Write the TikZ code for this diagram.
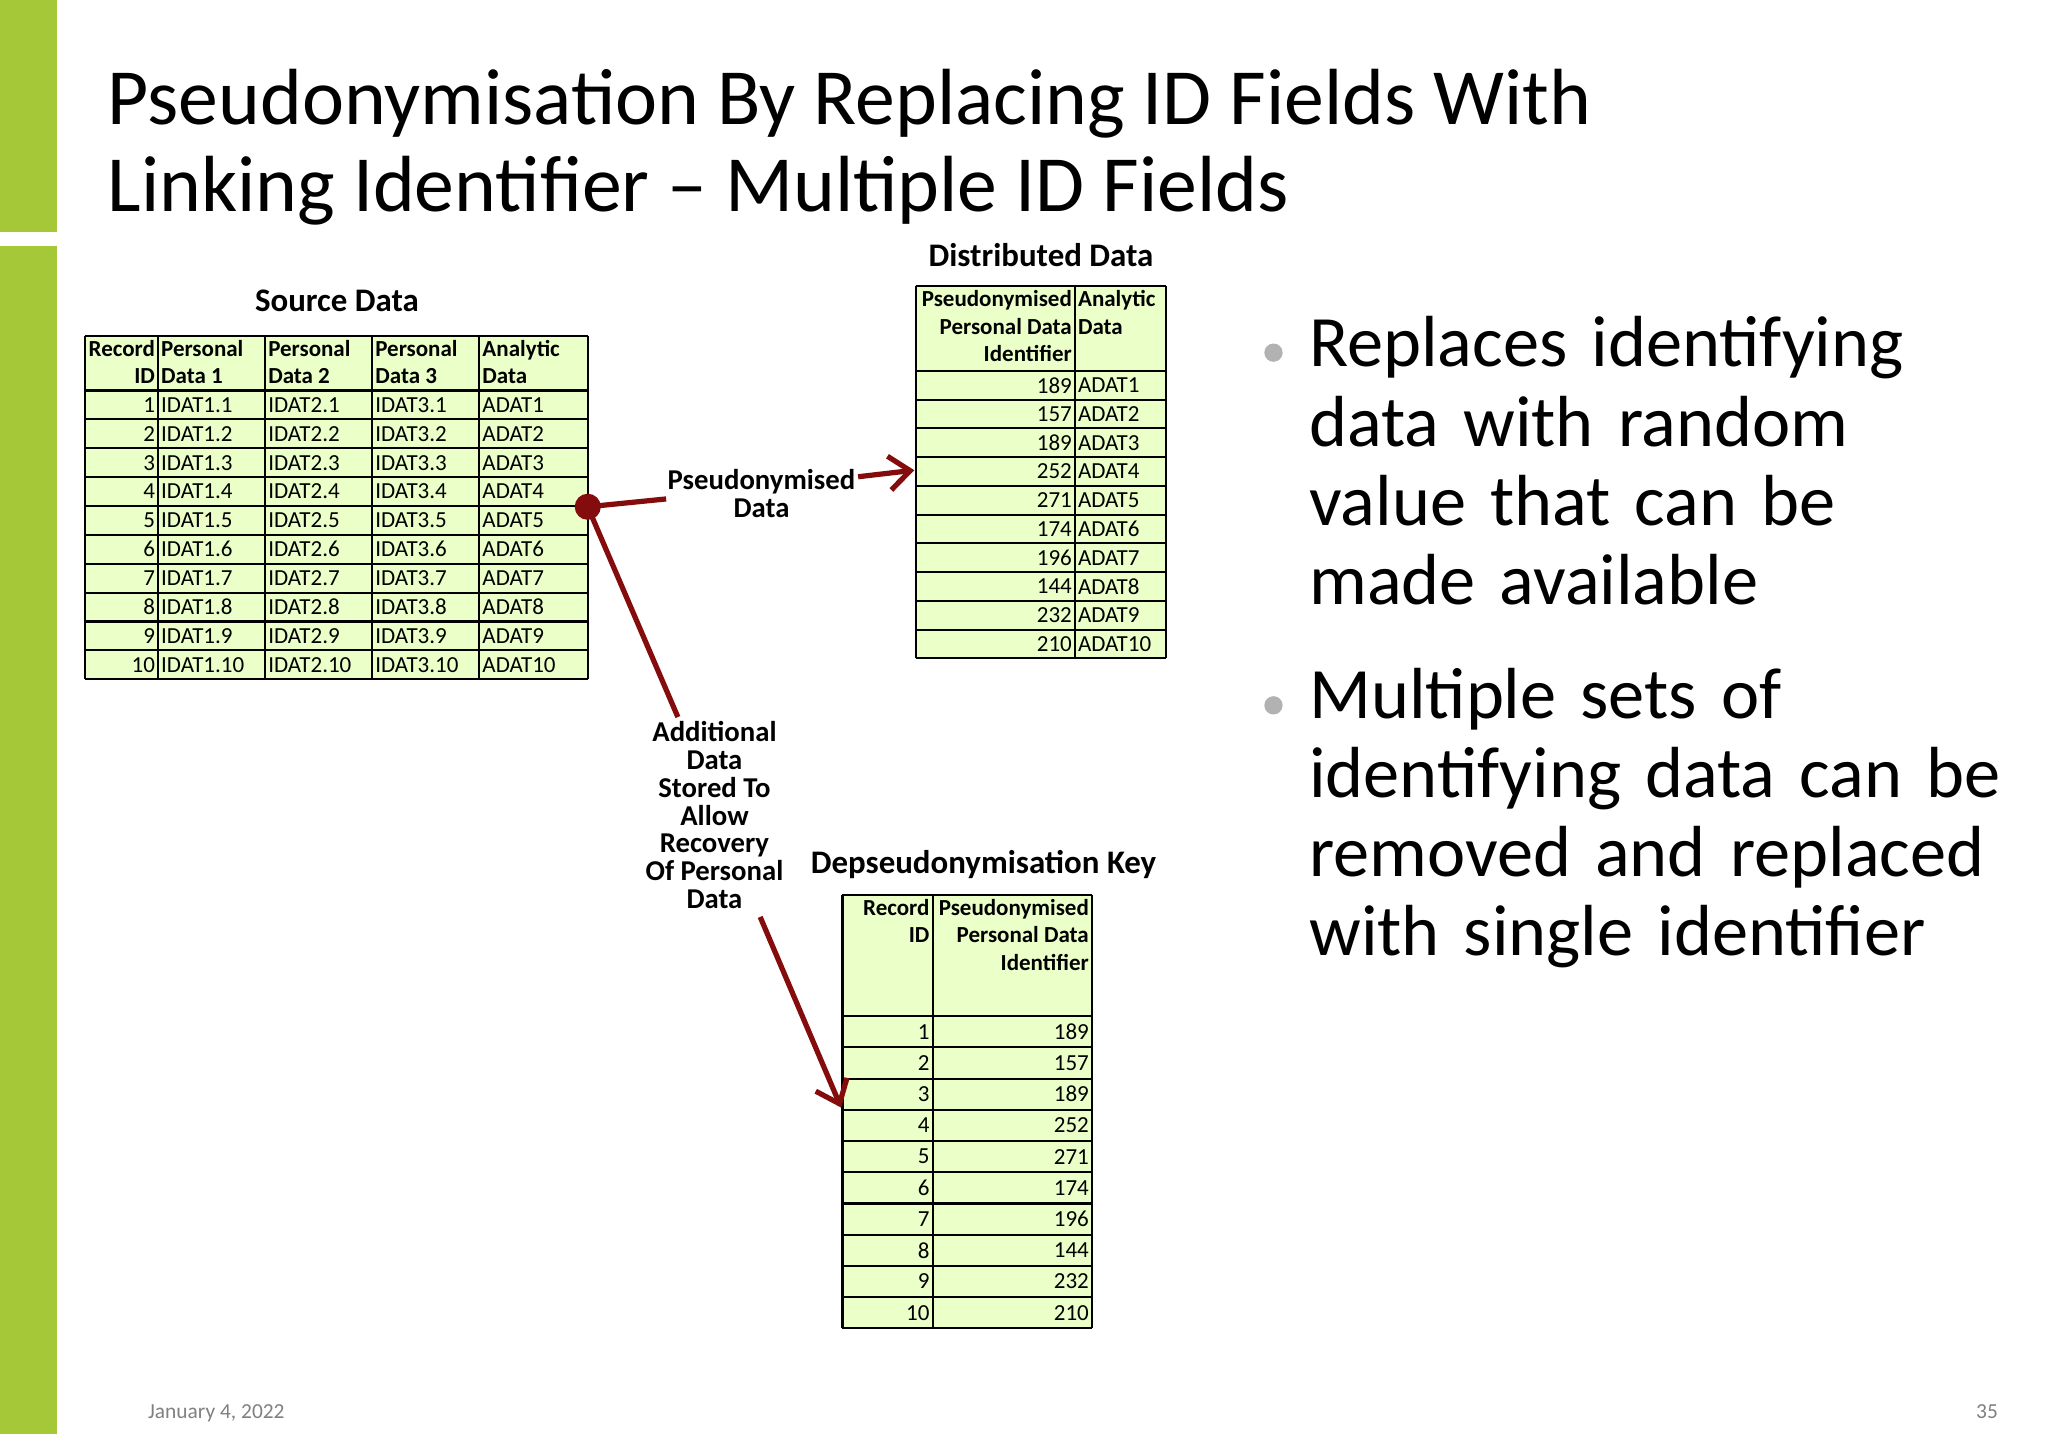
\documentclass[tikz,border=0pt]{standalone}
\usepackage{fontspec}
\usetikzlibrary{arrows.meta}
\setmainfont{Carlito}
\definecolor{barg}{HTML}{A5C838}
\definecolor{cellg}{HTML}{EBFFC8}
\definecolor{arr}{HTML}{850C0C}
\begin{document}
\begin{tikzpicture}[x=0.5pt,y=-0.5pt,
  cell/.style={inner sep=1pt,font=\fontsize{8.8}{9.5}\selectfont},
  hdr/.style={inner sep=1pt,font=\fontsize{8.8}{10.5}\selectfont\bfseries,align=left},
  hdrr/.style={inner sep=1pt,font=\fontsize{8.8}{10.5}\selectfont\bfseries,align=right},
  ttl/.style={font=\fontsize{12.6}{14}\selectfont\bfseries},
  lbl/.style={font=\fontsize{11}{10.6}\selectfont\bfseries,align=center,inner sep=1pt},
  conn/.style={draw=arr,line width=2pt},
  bul/.style={anchor=north west,align=left,font=\fontsize{27.7}{30.3}\selectfont,inner sep=0pt,text width=300pt},
  grid/.style={draw=black,line width=0.8pt}]
\useasboundingbox (0,0) rectangle (1568,1098);
\fill[white] (0,0) rectangle (1568,1098);
\fill[barg] (0,0) rectangle (44,178);
\fill[barg] (0,188) rectangle (44,1098);
% title
\node[anchor=base west,inner sep=0pt,font=\fontsize{30.5}{32}\selectfont] (title1) at (82,95) {Pseudonymisation By Replacing ID Fields With};
\node[anchor=base west,inner sep=0pt,font=\fontsize{30.5}{32}\selectfont] (title2) at (82,162) {Linking Identifier -- Multiple ID Fields};
% ---------- Source table
\node[ttl] (srcT) at (258,230) {Source Data};
\fill[cellg] (65,257) rectangle (450,520);
\foreach \x in {65,121,203,285,367,450} \draw[grid] (\x,257) -- (\x,520);
\draw[grid] (65,257) -- (450,257);
\foreach \i in {0,...,10} \draw[grid] (65,299+22.1*\i) -- (450,299+22.1*\i);
\node[hdrr,anchor=north east] (sh1) at (121,258) {Record\\ID};
\node[hdr,anchor=north west] (sh2) at (121,258) {Personal\\Data 1};
\node[hdr,anchor=north west] (sh3) at (203,258) {Personal\\Data 2};
\node[hdr,anchor=north west] (sh4) at (285,258) {Personal\\Data 3};
\node[hdr,anchor=north west] (sh5) at (367,258) {Analytic\\Data};
\foreach \i in {1,...,10}{
  \pgfmathsetmacro{\yy}{299+22.1*(\i-0.5)}
  \node[cell,anchor=east] (sa\i) at (121,\yy) {\i};
  \node[cell,anchor=west] (sb\i) at (121,\yy) {IDAT1.\i};
  \node[cell,anchor=west] (sc\i) at (203,\yy) {IDAT2.\i};
  \node[cell,anchor=west] (sd\i) at (285,\yy) {IDAT3.\i};
  \node[cell,anchor=west] (se\i) at (367,\yy) {ADAT\i};
}
% ---------- Distributed table
\node[ttl] (distT) at (797,195) {Distributed Data};
\fill[cellg] (701,219) rectangle (893,504);
\foreach \x in {701,823,893} \draw[grid] (\x,219) -- (\x,504);
\draw[grid] (701,219) -- (893,219);
\foreach \i in {0,...,10} \draw[grid] (701,284+22*\i) -- (893,284+22*\i);
\node[hdrr,anchor=north east] (dh1) at (823,220) {Pseudonymised\\Personal Data\\Identifier};
\node[hdr,anchor=north west] (dh2) at (823,220) {Analytic\\Data};
\foreach \i/\v in {1/189,2/157,3/189,4/252,5/271,6/174,7/196,8/144,9/232,10/210}{
  \pgfmathsetmacro{\yy}{284+22*(\i-0.5)}
  \node[cell,anchor=east] (da\i) at (823,\yy) {\v};
  \node[cell,anchor=west] (db\i) at (823,\yy) {ADAT\i};
}
% ---------- Key table
\node[ttl] (keyT) at (753,662) {Depseudonymisation Key};
\fill[cellg] (645,685) rectangle (836,1017);
\foreach \x in {645,714,836} \draw[grid] (\x,685) -- (\x,1017);
\draw[grid] (645,685) -- (836,685);
\foreach \i in {0,...,10} \draw[grid] (645,778+23.9*\i) -- (836,778+23.9*\i);
\node[hdrr,anchor=north east] (kh1) at (714,686) {Record\\ID};
\node[hdrr,anchor=north east] (kh2) at (836,686) {Pseudonymised\\Personal Data\\Identifier};
\foreach \i/\v in {1/189,2/157,3/189,4/252,5/271,6/174,7/196,8/144,9/232,10/210}{
  \pgfmathsetmacro{\yy}{778+23.9*(\i-0.5)}
  \node[cell,anchor=east] (ka\i) at (714,\yy) {\i};
  \node[cell,anchor=east] (kb\i) at (836,\yy) {\v};
}
% ---------- connectors
\coordinate (dot) at (450,388);
\node[lbl] (pd) at (583,378) {Pseudonymised\\Data};
\node[lbl] (ad) at (547,624) {Additional\\Data\\Stored To\\Allow\\Recovery\\Of Personal\\Data};
\coordinate (pdL) at (510,382);
\coordinate (pdR) at (657,365);
\coordinate (distIn) at (700,360);
\coordinate (adT) at (519,549);
\coordinate (adB) at (582,702);
\coordinate (keyIn) at (644,848);
\draw[conn] (dot) -- (pdL);
\draw[conn] (dot) -- (adT);
\draw[conn,-{Straight Barb[length=8pt,width=13pt]}] (pdR) -- (distIn);
\draw[conn,-{Straight Barb[length=8pt,width=13pt]}] (adB) -- (keyIn);
\fill[arr] (dot) circle (5pt);
% ---------- bullets
\fill[gray!60] (975,270) circle (3.5pt);
\fill[gray!60] (975,540) circle (3.5pt);
\node[bul] (b1) at (1002,242) {Replaces identifying\\data with random\\value that can be\\made available};
\node[bul] (b2) at (1002,511) {Multiple sets of\\identifying data can be\\removed and replaced\\with single identifier};
% ---------- footer
\node[anchor=base west,inner sep=0pt,text=gray,font=\fontsize{8.2}{9}\selectfont] (date) at (113,1086) {January 4, 2022};
\node[anchor=base east,inner sep=0pt,text=gray,font=\fontsize{8.2}{9}\selectfont] (pg) at (1530,1086) {35};
\end{tikzpicture}
\end{document}
